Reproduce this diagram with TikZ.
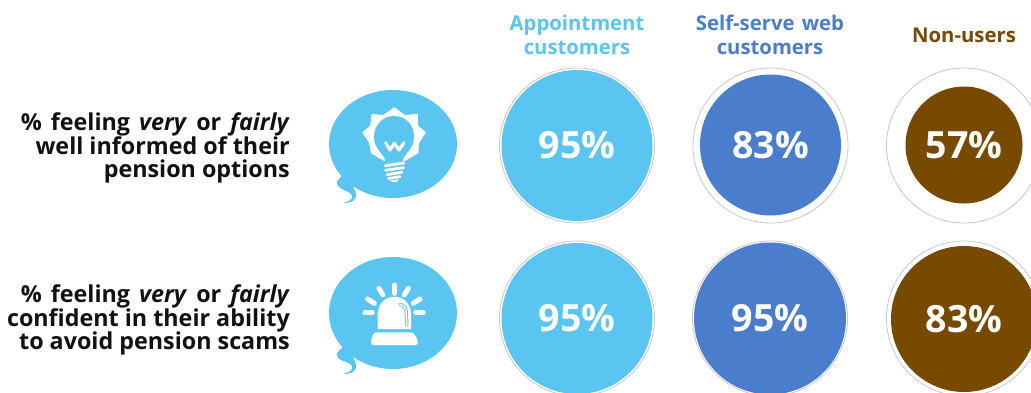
\documentclass[tikz,border=0pt]{standalone}
\usepackage{fontspec}
\setmainfont{Open Sans}
\definecolor{lblue}{HTML}{5BC5F2}
\definecolor{mblue}{HTML}{4A7DCB}
\definecolor{brn}{HTML}{784A00}
\definecolor{ringc}{HTML}{C8C8C8}
\definecolor{txt}{HTML}{111111}
\newcommand{\pct}[1]{\raisebox{-1pt}{#1\%}}
\newcommand{\wsp}{\hspace{3pt} }
\tikzset{
 ringn/.style={circle,draw=ringc,line width=.8pt,fill=white,minimum size=#1,inner sep=0pt},
 disc/.style={circle,text=white,font=\fontsize{37.5}{37.5}\selectfont\bfseries,inner sep=0pt,minimum size=#1},
 head/.style={align=center,font=\fontsize{20.3}{24.5}\selectfont\bfseries},
 rowlab/.style={align=right,anchor=east,text=txt,font=\fontsize{23.3}{23.8}\selectfont\bfseries,inner sep=0pt},
 bubble/.style={fill=lblue,draw=none},
 screw/.style={draw=white,line width=2.8pt,line cap=round},
 ray/.style={draw=white,line width=5pt,line cap=round},
}
\begin{document}
\begin{tikzpicture}[x=1pt,y=-1pt]
\useasboundingbox (0,0) rectangle (1031,392);
% headers
\node[head,text=lblue] (h1) at (577,35) {Appointment\\customers};
\node[head,text=mblue] (h2) at (770,35) {Self-serve\hspace{2pt} web\\customers};
\node[head,text=brn] (h3) at (964,35) {Non-users};
% row labels
\node[rowlab] (l1) at (290,148) {\%\wsp feeling\wsp \textit{very}\wsp or\wsp \textit{fairly}\\well informed of their\\pension options};
\node[rowlab] (l2) at (290,320) {\%\wsp feeling\wsp \textit{very}\wsp or\wsp \textit{fairly}\\confident in their ability\\to avoid pension scams};
% row 1
\node[ringn=155pt] (r11) at (577,145.5) {};
\node[disc=151pt,fill=lblue] (c11) at (577,145.5) {\pct{95}};
\node[ringn=155pt] (r12) at (770.5,145.5) {};
\node[disc=141pt,fill=mblue] (c12) at (770.5,145) {\pct{83}};
\node[ringn=155pt] (r13) at (964,145.5) {};
\node[disc=117pt,fill=brn] (c13) at (964,145) {\pct{57}};
% row 2
\node[ringn=155pt] (r21) at (577,318.5) {};
\node[disc=151pt,fill=lblue] (c21) at (577,318.5) {\pct{95}};
\node[ringn=155pt] (r22) at (770,318.5) {};
\node[disc=152pt,fill=mblue] (c22) at (770,318.5) {\pct{95}};
\node[ringn=155pt] (r23) at (964,318.5) {};
\node[disc=146pt,fill=brn] (c23) at (964,319) {\pct{83}};
% bubble 1
\fill[bubble] (393,144) ellipse [x radius=64, y radius=54];
\fill[bubble] (345,170) -- (342.7,175) .. controls (340,178) and (337,180) .. (336.7,183)
  .. controls (337,188) and (345,190) .. (350,193)
  .. controls (355,196) and (352,201) .. (342.7,203)
  .. controls (352,203) and (357,200) .. (356,194)
  .. controls (355,191) and (354,188) .. (352.7,186)
  .. controls (358,190) and (364,192) .. (372,194) -- cycle;
% bulb
\fill[white] (384.3,161) -- (371,153.3) -- (369,142.7) -- (362.3,132.3) -- (370,126) -- (371.7,114) -- (383.3,115) -- (394.3,107.3) -- (405,115) -- (417.7,114) -- (418.3,126) -- (426,132.3) -- (419.3,142.7) -- (418.3,153.3) -- (405,161) -- cycle;
\fill[lblue] (385,161) .. controls (385,154) and (374,150) .. (374,137)
  .. controls (374,124) and (384,116) .. (394,116)
  .. controls (405,116) and (414,124) .. (414,137)
  .. controls (414,150) and (403,154) .. (403,161) -- cycle;
\draw[white,line width=3.2pt,line cap=round,line join=round] (385.7,142.7) -- (390,150) -- (394.3,143.3) -- (399,150) -- (404,142.7);
\draw[screw] (385.5,165.7) -- (404,163);
\draw[screw] (385.5,170.2) -- (403.5,167.7);
\draw[screw] (387,174.7) -- (402,172.3);
\draw[screw] (388.5,178.5) -- (400,176.7);
\fill[white] (390,180.5) -- (399,179.5) .. controls (398,182.5) and (392,183.5) .. (390,180.5) -- cycle;
% bubble 2
\fill[bubble] (393,313) ellipse [x radius=64, y radius=56];
\fill[bubble] (345,341) -- (342.7,347) .. controls (340,350) and (337,352) .. (336.7,355)
  .. controls (337,360) and (345,361) .. (350,364)
  .. controls (355,367) and (352,372) .. (342.7,374)
  .. controls (352,374) and (357,371) .. (356,365)
  .. controls (355,361) and (354,359) .. (352.7,356)
  .. controls (358,360) and (364,363) .. (372,365) -- cycle;
% siren
\fill[white] (377.7,329) -- (377.7,315) .. controls (377.7,304) and (385,296.7) .. (394.3,296.7) .. controls (404,296.7) and (411,304) .. (411,315) -- (411,329) -- cycle;
\draw[lblue,line width=3.4pt,line cap=round] (400,304.3) .. controls (405,305.7) and (406.3,309) .. (406.3,314) -- (406.8,325);
\draw[white,line width=1.5pt,line cap=round] (400,304.3) .. controls (405,305.7) and (406.3,309) .. (406.3,314) -- (406.8,325);
\fill[white,rounded corners=2.5pt] (374,332.3) -- (413,332.3) -- (418,340) -- (418,345) -- (371,345) -- (371,340) -- cycle;
\draw[ray] (365,312.7) -- (372.3,312.7);
\draw[ray] (367.7,299) -- (374.3,303.3);
\draw[ray] (379,288.3) -- (383,295);
\draw[ray] (394.3,285) -- (394.3,293.3);
\draw[ray] (408.3,288.3) -- (404.3,295);
\draw[ray] (420,299) -- (413.3,303.3);
\draw[ray] (423.3,312.7) -- (415.7,312.7);
\end{tikzpicture}
\end{document}
